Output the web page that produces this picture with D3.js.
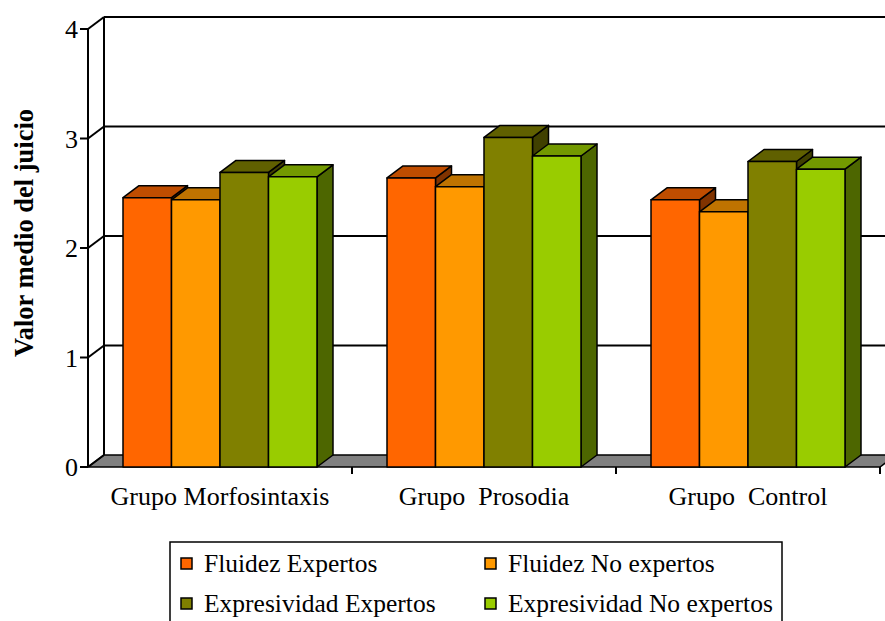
<!DOCTYPE html>
<html><head><meta charset="utf-8">
<script src="https://cdn.jsdelivr.net/npm/d3@7"></script>
<style>html,body{margin:0;padding:0;background:#fff;}svg{display:block;}</style>
</head><body>
<script>
const categories = ["Grupo Morfosintaxis", "Grupo  Prosodia", "Grupo  Control"];
const seriesNames = ["Fluidez Expertos", "Fluidez No expertos", "Expresividad Expertos", "Expresividad No expertos"];
const fluidezExpertos = [2.46, 2.64, 2.44];
const fluidezNoExpertos = [2.44, 2.56, 2.33];
const expresividadExpertos = [2.69, 3.01, 2.79];
const expresividadNoExpertos = [2.65, 2.84, 2.72];
const seriesValues = [fluidezExpertos, fluidezNoExpertos, expresividadExpertos, expresividadNoExpertos];
const yTicks = [0, 1, 2, 3, 4];
const frontColors = ["#FF6600", "#FF9900", "#808000", "#99CC00"];

const W = 885, H = 621;
const svg = d3.select("body").append("svg").attr("width", W).attr("height", H)
  .style("font-family", "'Liberation Serif','Times New Roman',serif");

const DX = 16, DY = 12;
const x0 = d3.scaleBand().domain(categories).range([88, 880]);
const x1 = d3.scaleBand().domain(seriesNames).range([35, 229]);
const y = d3.scaleLinear().domain([0, 4]).range([467, 29]);

const shade = (c, k) => { const r = d3.rgb(c); return d3.rgb(r.r * k, r.g * k, r.b * k).formatHex(); };
const pts = a => a.map(p => p.join(",")).join(" ");

// floor
const xl = x0.range()[0], xr = x0.range()[1];
svg.append("polygon")
  .attr("points", pts([[xl, y(0)], [xr, y(0)], [xr + DX, y(0) - DY], [xl + DX, y(0) - DY]]))
  .attr("fill", "#808080").attr("stroke", "#000").attr("stroke-width", 1.5);

// back wall gridlines and left wall diagonals
const g = svg.append("g").attr("stroke", "#000").attr("stroke-width", 2).attr("fill", "none");
yTicks.forEach(t => {
  if (t > 0) {
    g.append("line").attr("x1", xl + DX).attr("x2", xr + DX).attr("y1", y(t) - DY).attr("y2", y(t) - DY);
  }
  g.append("line").attr("x1", xl).attr("y1", y(t)).attr("x2", xl + DX).attr("y2", y(t) - DY);
  g.append("line").attr("x1", xl - 8).attr("x2", xl).attr("y1", y(t)).attr("y2", y(t));
});
g.append("line").attr("x1", xl + DX).attr("x2", xl + DX).attr("y1", y(4) - DY).attr("y2", y(0) - DY);
g.append("line").attr("x1", xl).attr("x2", xl).attr("y1", y(4)).attr("y2", y(0));
x0.domain().forEach(c => {
  const xx = x0(c) + x0.bandwidth();
  g.append("line").attr("x1", xx).attr("x2", xx).attr("y1", y(0)).attr("y2", y(0) + 7);
});

// bars
const bars = svg.append("g").attr("stroke", "#000").attr("stroke-width", 1.5).attr("stroke-linejoin", "round");
categories.forEach((c, ci) => {
  seriesNames.forEach((s, si) => {
    const v = seriesValues[si][ci];
    const bx = x0(c) + x1(s), bw = x1.bandwidth();
    const yt = y(v), yb = y(0);
    const col = frontColors[si];
    bars.append("polygon").attr("points", pts([[bx + bw, yt], [bx + bw + DX, yt - DY], [bx + bw + DX, yb - DY], [bx + bw, yb]]))
      .attr("fill", shade(col, 0.5));
    bars.append("polygon").attr("points", pts([[bx, yt], [bx + DX, yt - DY], [bx + bw + DX, yt - DY], [bx + bw, yt]]))
      .attr("fill", shade(col, 0.75));
    bars.append("rect").attr("x", bx).attr("y", yt).attr("width", bw).attr("height", yb - yt)
      .attr("fill", col);
  });
});

// y tick labels
svg.append("g").selectAll("text").data(yTicks).join("text")
  .attr("x", 78).attr("y", d => y(d)).attr("dy", "0.35em")
  .attr("text-anchor", "end").attr("font-size", 26).text(d => d);

// y title
svg.append("text").attr("transform", "translate(33,233) rotate(-90)")
  .attr("text-anchor", "middle").attr("font-size", 26.5).attr("font-weight", "bold")
  .text("Valor medio del juicio");

// category labels
svg.append("g").selectAll("text").data(categories).join("text")
  .attr("x", d => x0(d) + x0.bandwidth() / 2).attr("y", 505)
  .attr("text-anchor", "middle").attr("font-size", 26)
  .style("white-space", "pre").attr("xml:space", "preserve")
  .text(d => d);

// legend
const lg = svg.append("g");
lg.append("rect").attr("x", 170).attr("y", 542).attr("width", 612).attr("height", 100)
  .attr("fill", "#fff").attr("stroke", "#000").attr("stroke-width", 1.5);
const lx = [181, 485], ly = [558, 598];
seriesNames.forEach((s, i) => {
  const cx = lx[i % 2], cy = ly[Math.floor(i / 2)];
  lg.append("rect").attr("x", cx).attr("y", cy).attr("width", 11).attr("height", 11)
    .attr("fill", frontColors[i]).attr("stroke", "#000").attr("stroke-width", 1.5);
  lg.append("text").attr("x", cx + 23).attr("y", cy + 14).attr("font-size", 25.5).text(s);
});
</script>
</body></html>
